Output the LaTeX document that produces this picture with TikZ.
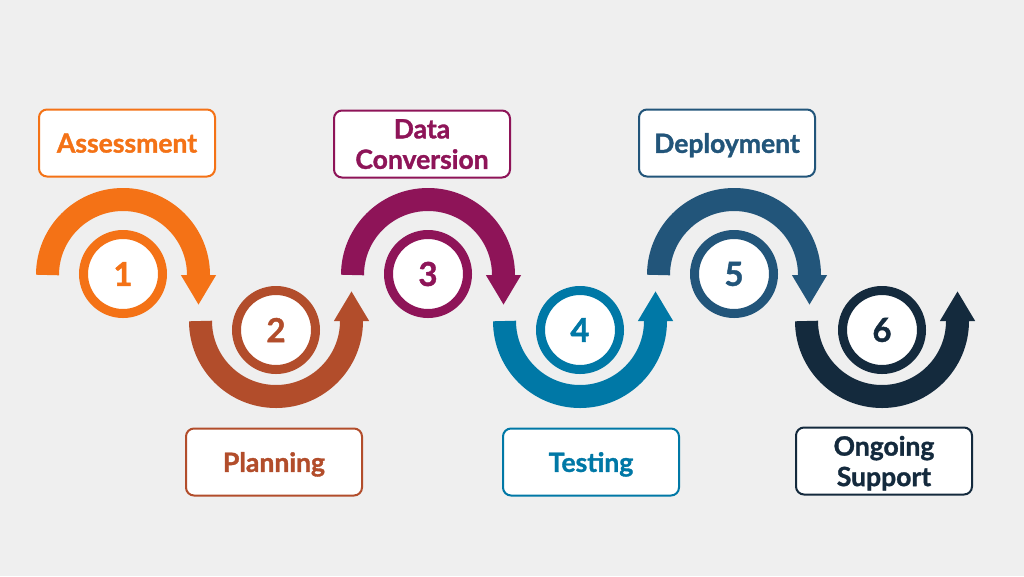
\documentclass[tikz,border=0pt]{standalone}
\usepackage{fontspec}
\setsansfont{Lato}[BoldFeatures={FakeBold=1.3}]
\usepackage{tikz}
\usetikzlibrary{arrows.meta}
\definecolor{paper}{HTML}{EFEFEF}
\definecolor{orng}{HTML}{F47216}
\definecolor{rust}{HTML}{B24D2B}
\definecolor{plum}{HTML}{8E1458}
\definecolor{teal}{HTML}{0078A6}
\definecolor{steel}{HTML}{22557A}
\definecolor{navy}{HTML}{142A3D}
\tikzset{
  every node/.style={font=\sffamily\bfseries},
  box/.style={draw=#1,text=#1,fill=white,rounded corners=8,line width=2,
              minimum width=176,minimum height=67,align=center,inner sep=0,
              text depth=0pt,font=\sffamily\bfseries\fontsize{26.5}{30.5}\selectfont},
  ring/.style={circle,draw=#1,text=#1,fill=white,line width=9,minimum size=79,
               inner sep=0,font=\sffamily\bfseries\fontsize{33}{33}\selectfont},
  band/.style={draw=#1,line width=23,-{Triangle[width=33,length=30]}},
}

\begin{document}
\begin{tikzpicture}[x=1pt,y=1pt]
\fill[paper] (0,0) rectangle (1024,-576);
% steps
\node[ring=orng]  (n1) at (123,-274) {1};
\node[ring=rust]  (n2) at (276,-330) {2};
\node[ring=plum]  (n3) at (428,-274) {3};
\node[ring=teal]  (n4) at (580,-330) {4};
\node[ring=steel] (n5) at (734,-274) {5};
\node[ring=navy]  (n6) at (882,-330) {6};
% arcs round the steps
\draw[band=orng]  ([shift={(-75.5,-1)}]n1.center) arc[start angle=180,end angle=0,radius=75.5] -- ++(0,-30);
\draw[band=rust]  ([shift={(-75.5,9)}]n2.center) arc[start angle=180,end angle=360,radius=75.5] -- ++(0,30);
\draw[band=plum]  ([shift={(-75.5,-1)}]n3.center) arc[start angle=180,end angle=0,radius=75.5] -- ++(0,-30);
\draw[band=teal]  ([shift={(-75.5,9)}]n4.center) arc[start angle=180,end angle=360,radius=75.5] -- ++(0,30);
\draw[band=steel] ([shift={(-75.5,-1)}]n5.center) arc[start angle=180,end angle=0,radius=75.5] -- ++(0,-30);
\draw[band=navy]  ([shift={(-75.5,9)}]n6.center) arc[start angle=180,end angle=360,radius=75.5] -- ++(0,30);
% labels
\node[box=orng]  (t1) at (127,-143) {Assessment};
\node[box=rust]  (t2) at (274,-462) {Planning};
\node[box=plum]  (t3) at (422,-144) {Data\\Conversion};
\node[box=teal]  (t4) at (591,-462) {Testing};
\node[box=steel] (t5) at (727,-143) {Deployment};
\node[box=navy,text depth=-9pt] (t6) at (884,-461) {Ongoing\\Support};
\end{tikzpicture}
\end{document}
